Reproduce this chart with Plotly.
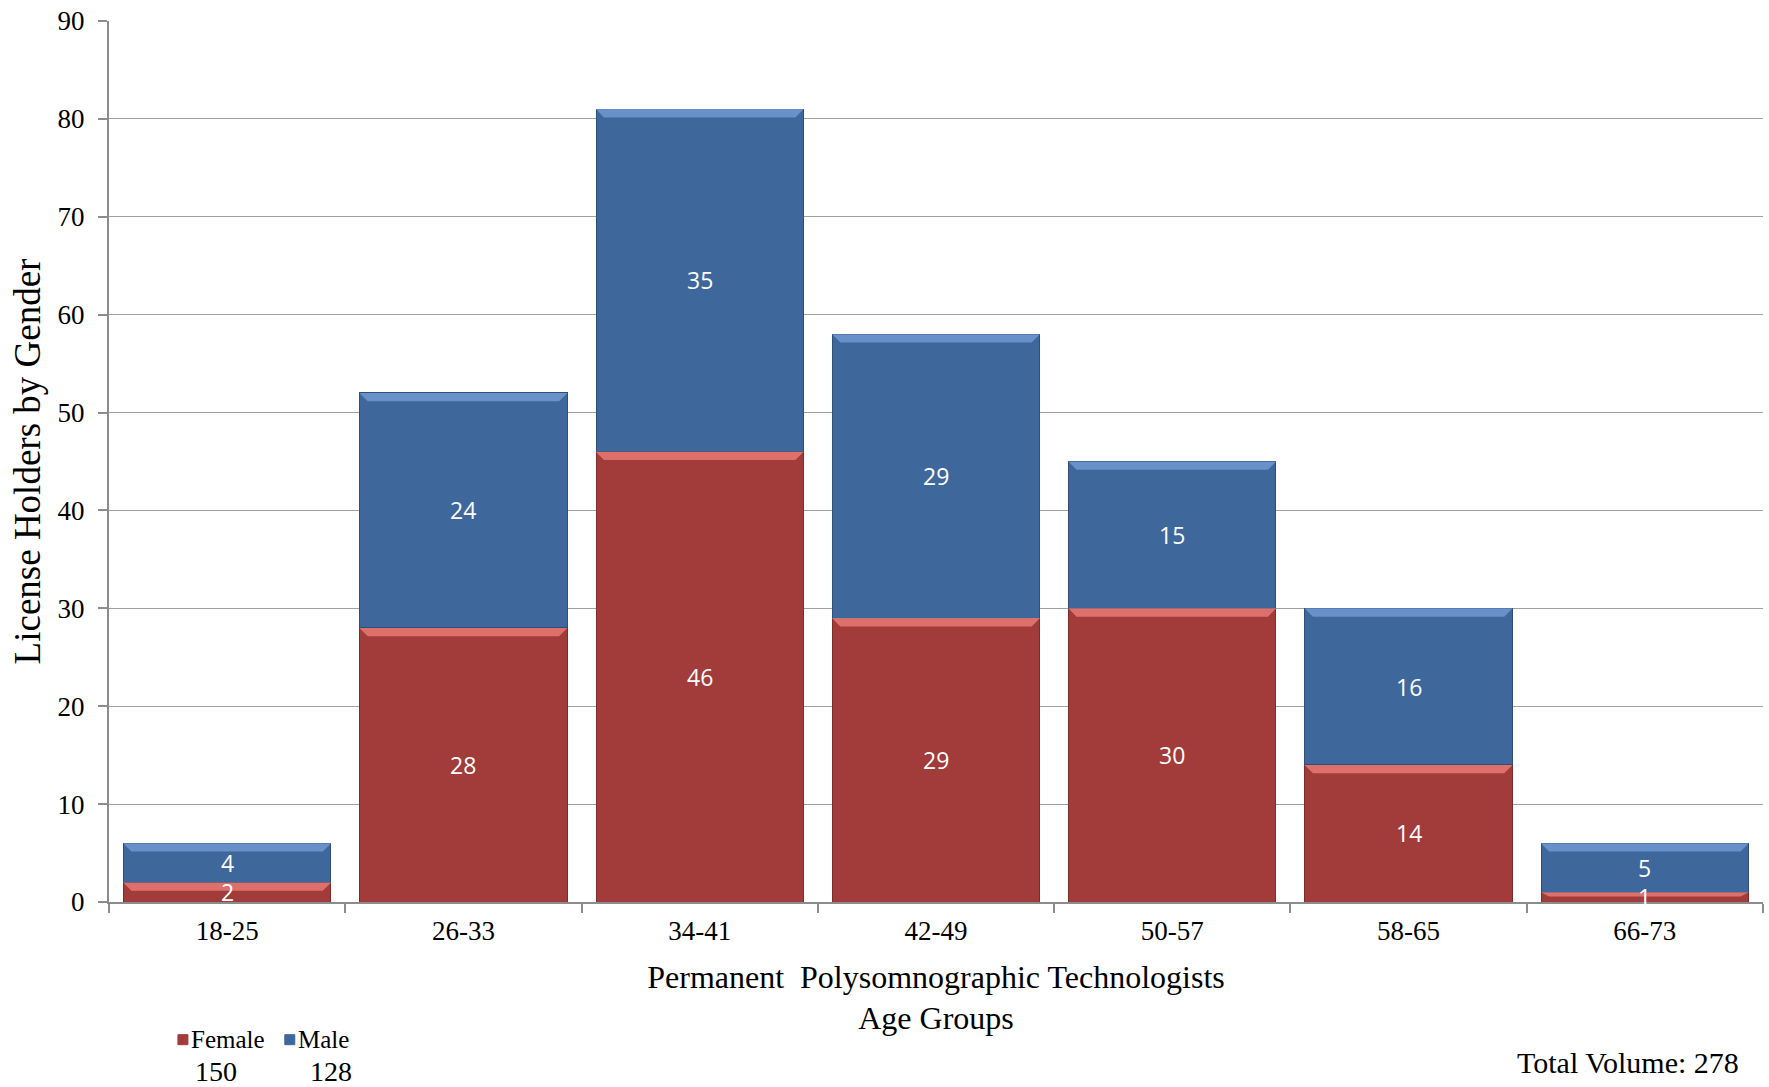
import plotly.graph_objects as go

# Age groups and license holder counts by gender
age_groups = ["18-25", "26-33", "34-41", "42-49", "50-57", "58-65", "66-73"]
female = [2, 28, 46, 29, 30, 14, 1]
male = [4, 24, 35, 29, 15, 16, 5]
y_ticks = [0, 10, 20, 30, 40, 50, 60, 70, 80, 90]

female_total = sum(female)
male_total = sum(male)
total_volume = female_total + male_total

RED = "#A23C3A"
BLUE = "#3E689B"
RED_EDGE = "#7E2B2A"
BLUE_EDGE = "#2D4E78"
SERIF = "Liberation Serif, Times New Roman, serif"
SANS = "Open Sans, Noto Sans, sans-serif"

fig = go.Figure()
for name, vals, col, edge in [("Female", female, RED, RED_EDGE), ("Male", male, BLUE, BLUE_EDGE)]:
    fig.add_trace(go.Bar(
        x=age_groups, y=vals, name=name,
        marker=dict(color=col, line=dict(color=edge, width=1)),
        showlegend=False,
        hovertemplate="%{x}: %{y}<extra>" + name + "</extra>",
    ))

# Bevel highlight along the top of each stacked segment, plus centred value labels
BEVEL = 0.85
bases = [0] * len(age_groups)
for vals, light in [(female, "rgba(238,125,120,0.8)"), (male, "rgba(115,155,212,0.8)")]:
    for i, v in enumerate(vals):
        top = bases[i] + v
        h = min(BEVEL, v * 0.45)
        fig.add_shape(type="path", xref="x", yref="y",
                      path=f"M {i-0.44},{top} L {i+0.44},{top} L {i+0.44-0.035},{top-h} L {i-0.44+0.035},{top-h} Z",
                      fillcolor=light, line=dict(width=0), layer="above")
        fig.add_annotation(x=age_groups[i], y=bases[i] + v / 2, text=str(v),
                           showarrow=False, xanchor="center", yanchor="middle",
                           font=dict(family=SANS, size=23, color="white"))
        bases[i] = top

fig.update_layout(
    barmode="stack",
    bargap=0.123,
    width=1769, height=1087,
    margin=dict(l=109, r=6, t=19, b=185),
    paper_bgcolor="white", plot_bgcolor="white",
    font=dict(family=SERIF, color="black"),
    xaxis=dict(
        type="category",
        showline=True, linecolor="#8C8C8C", linewidth=2,
        ticks="outside", tickson="boundaries", ticklen=9, tickcolor="#8C8C8C", tickwidth=2,
        tickfont=dict(family=SERIF, size=27, color="black"),
        ticklabelstandoff=4,
        title=dict(text="Permanent  Polysomnographic Technologists<br>Age Groups",
                   font=dict(family=SERIF, size=32, color="black"), standoff=20),
        showgrid=False,
    ),
    yaxis=dict(
        range=[0, 90], tickvals=y_ticks,
        showline=True, linecolor="#8C8C8C", linewidth=2,
        ticks="outside", ticklen=9, tickcolor="#8C8C8C", tickwidth=2,
        tickfont=dict(family=SERIF, size=27, color="black"),
        ticklabelstandoff=8,
        showgrid=True, gridcolor="#A0A0A0", gridwidth=1,
        zeroline=False,
        title=dict(text="License Holders by Gender",
                   font=dict(family=SERIF, size=37, color="black"), standoff=6),
    ),
)

# Legend with per-gender totals underneath
legend_items = [("Female", RED, 0.0447, female_total, 0.0645),
                ("Male", BLUE, 0.1093, male_total, 0.134)]
for name, col, sx, tot, nx in legend_items:
    fig.add_shape(type="rect", xref="paper", yref="paper",
                  xsizemode="pixel", ysizemode="pixel", xanchor=sx, yanchor=-0.1563,
                  x0=-5, x1=5, y0=-5, y1=5, fillcolor=col, line=dict(color=col, width=1))
    fig.add_annotation(text=name, xref="paper", yref="paper", x=sx + 0.0035, y=-0.1563,
                       xanchor="left", yanchor="middle", showarrow=False,
                       font=dict(family=SERIF, size=25, color="black"))
    fig.add_annotation(text=str(tot), xref="paper", yref="paper", x=nx, y=-0.1925,
                       xanchor="center", yanchor="middle", showarrow=False,
                       font=dict(family=SERIF, size=28, color="black"))

fig.add_annotation(text=f"Total Volume: {total_volume}", xref="paper", yref="paper",
                   x=0.987, y=-0.182, xanchor="right", yanchor="middle", showarrow=False,
                   font=dict(family=SERIF, size=30, color="black"))

fig.write_html("out.html")
